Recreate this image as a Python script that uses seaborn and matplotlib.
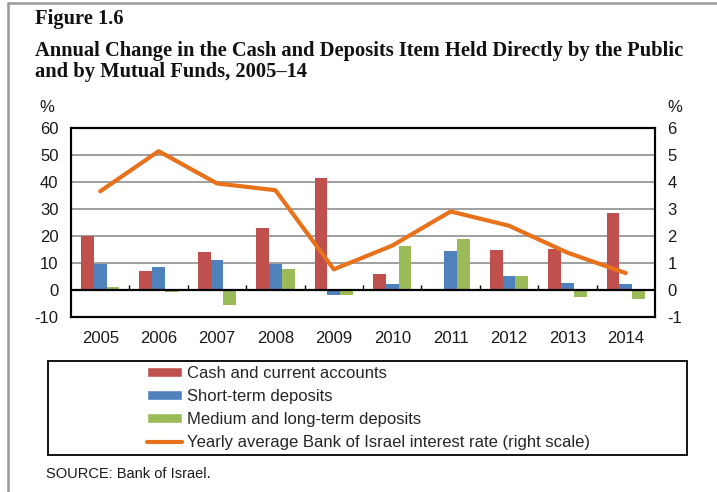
import numpy as np
import pandas as pd
import matplotlib
matplotlib.use("Agg")
import matplotlib.pyplot as plt
from matplotlib.lines import Line2D
from matplotlib.patches import Rectangle, Patch
import seaborn as sns

# Annual change (%) in the cash and deposits item, by component
years = ["2005", "2006", "2007", "2008", "2009", "2010", "2011", "2012", "2013", "2014"]
cash_current = [20.0, 6.9, 14.0, 23.1, 41.7, 6.0, 0.0, 14.6, 15.1, 28.4]
short_term = [9.5, 8.6, 11.0, 9.5, -2.0, 2.3, 14.5, 5.0, 2.7, 2.1]
medium_long = [1.0, -0.9, -5.5, 7.7, -2.0, 16.4, 18.7, 5.3, -2.7, -3.5]
# Yearly average Bank of Israel interest rate (%), right scale
boi_rate = [3.66, 5.15, 3.95, 3.70, 0.76, 1.64, 2.91, 2.38, 1.38, 0.62]

series_names = ["Cash and current accounts", "Short-term deposits",
                "Medium and long-term deposits"]
rate_name = "Yearly average Bank of Israel interest rate (right scale)"
bar_colors = ["#C0504D", "#4F81BD", "#9BBB59"]
line_color = "#E8711C"

df = pd.DataFrame({
    "year": years * 3,
    "series": np.repeat(series_names, len(years)),
    "value": cash_current + short_term + medium_long,
})

sns.set_style("white")
plt.rcParams["font.family"] = ["Liberation Sans", "DejaVu Sans"]
plt.rcParams["axes.unicode_minus"] = False

W, H = 717, 492
fig = plt.figure(figsize=(W / 100, H / 100), dpi=100)
ax = fig.add_axes([71 / W, 1 - 316.7 / H, (655 - 71) / W, (316.7 - 128.3) / H])

sns.barplot(data=df, x="year", y="value", hue="series", palette=bar_colors,
            width=0.66, saturation=1, ax=ax, legend=False, zorder=2,
            linewidth=0)

ax.set_xlim(-0.5, len(years) - 0.5)
ax.set_ylim(-10, 60)
ax.set_yticks(range(-10, 61, 10))
ax.yaxis.grid(True, color="#8f8f8f", lw=1.2)
ax.set_axisbelow(True)
ax.set_xlabel("")
ax.set_ylabel("")
ax.tick_params(axis="y", length=0, pad=9, labelsize=12, labelcolor="#1a1a1a")
ax.tick_params(axis="x", length=0, pad=10, labelsize=12, labelcolor="#1a1a1a")

# zero line with short category separators
ax.axhline(0, color="black", lw=1.6, zorder=3)
ax.vlines(np.arange(len(years) - 1) + 0.5, 0, 1.9, color="black", lw=1.0, zorder=3)

ax2 = ax.twinx()
sns.lineplot(x=np.arange(len(years)), y=boi_rate, ax=ax2, color=line_color,
             lw=3, legend=False)
ax2.set_ylim(-1, 6)
ax2.set_yticks(range(-1, 7))
ax2.tick_params(axis="y", length=0, pad=9, labelsize=12, labelcolor="#1a1a1a")
ax2.set_ylabel("")

for a in (ax, ax2):
    for s in a.spines.values():
        s.set_visible(True)
        s.set_color("black")
        s.set_linewidth(1.5)

fig.text(47 / W, 1 - 107 / H, "%", fontsize=12, ha="center", va="center", color="#1a1a1a")
fig.text(675 / W, 1 - 108 / H, "%", fontsize=12, ha="center", va="center", color="#1a1a1a")

title_kw = dict(family=["Liberation Serif", "DejaVu Serif"], weight="bold",
                fontsize=14.8, ha="left", va="center", color="#111111")
fig.text(35 / W, 1 - 19 / H, "Figure 1.6", **title_kw)
fig.text(35 / W, 1 - 51 / H,
         "Annual Change in the Cash and Deposits Item Held Directly by the Public",
         **title_kw)
fig.text(35 / W, 1 - 72 / H, "and by Mutual Funds, 2005\u201314", **title_kw)

handles = [Patch(facecolor=c) for c in bar_colors] + \
          [Line2D([0], [0], color=line_color, lw=3)]
fig.legend(handles, series_names + [rate_name], loc="upper left",
           bbox_to_anchor=(147 / W, 1 - 366 / H), bbox_transform=fig.transFigure,
           frameon=False, fontsize=12, handlelength=2.1, handleheight=0.55,
           handletextpad=0.3, labelspacing=0.48, borderpad=0, borderaxespad=0)
fig.add_artist(Rectangle((48 / W, 1 - 455 / H), (687 - 48) / W, (455 - 361) / H,
                         transform=fig.transFigure, fill=False, ec="black", lw=1.3))

fig.text(46 / W, 1 - 474 / H, "SOURCE: Bank of Israel.", fontsize=10.5,
         ha="left", va="center", color="#1a1a1a")

# page frame
fig.add_artist(Line2D([8 / W, 8 / W], [0, 1 - 3 / H], transform=fig.transFigure,
                      color="#999999", lw=1.8))
fig.add_artist(Line2D([8 / W, 1], [1 - 3 / H, 1 - 3 / H], transform=fig.transFigure,
                      color="#999999", lw=1.8))

fig.savefig("out.png", dpi=100)
